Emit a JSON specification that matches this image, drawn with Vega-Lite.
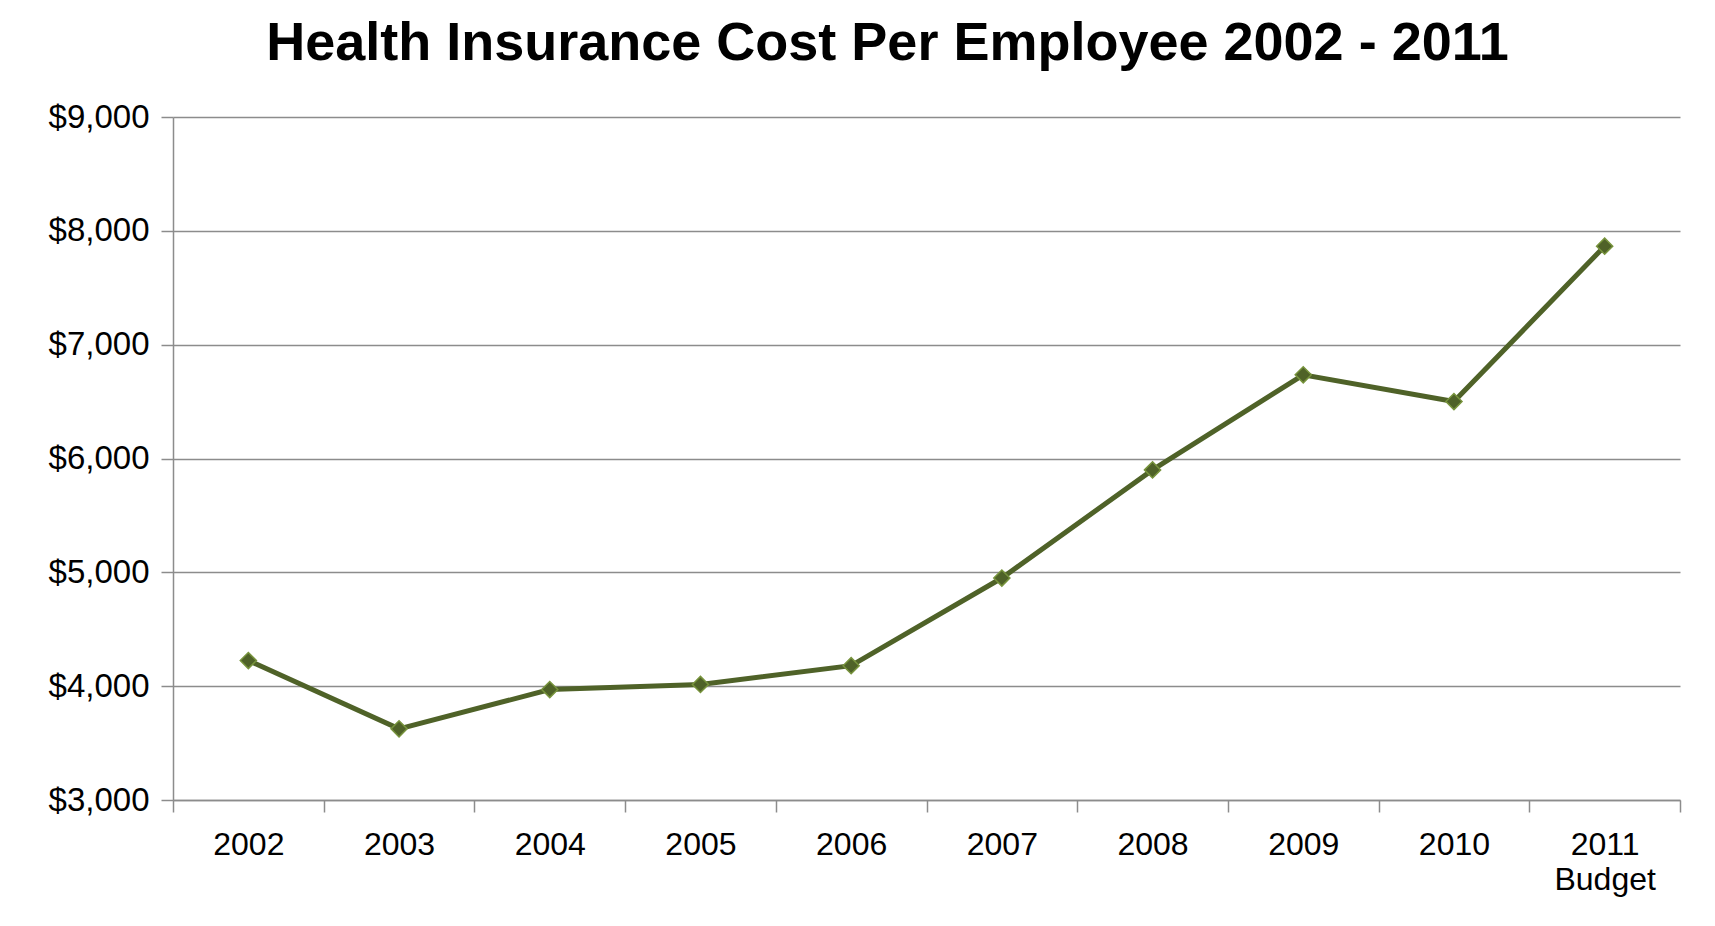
{
  "$schema": "https://vega.github.io/schema/vega-lite/v6.json",
  "width": 1507,
  "height": 683,
  "autosize": {"type": "none"},
  "padding": {"left": 173, "top": 117, "right": 35, "bottom": 126},
  "background": "white",
  "title": {
    "text": "Health Insurance Cost Per Employee 2002 - 2011",
    "font": "Liberation Sans",
    "fontSize": 54,
    "fontWeight": "bold",
    "color": "black",
    "anchor": "middle",
    "dx": -39,
    "offset": 30
  },
  "data": {
    "values": [
      {"year": "2002", "cost": 4225},
      {"year": "2003", "cost": 3625},
      {"year": "2004", "cost": 3970},
      {"year": "2005", "cost": 4015},
      {"year": "2006", "cost": 4180},
      {"year": "2007", "cost": 4950},
      {"year": "2008", "cost": 5900},
      {"year": "2009", "cost": 6735},
      {"year": "2010", "cost": 6500},
      {"year": "2011 Budget", "cost": 7865}
    ]
  },
  "encoding": {
    "x": {
      "field": "year",
      "type": "ordinal",
      "sort": null,
      "scale": {"paddingInner": 0, "paddingOuter": 0},
      "axis": {
        "title": null,
        "labelAngle": 0,
        "labelExpr": "datum.value ? split(datum.value, ' ') : ''",
        "labelFont": "Liberation Sans",
        "labelFontSize": 32,
        "labelColor": "black",
        "labelPadding": 17,
        "labelLineHeight": 35,
        "tickBand": "extent",
        "tickSize": 12,
        "tickColor": "#8c8c8c",
        "tickWidth": 1.5,
        "domainColor": "#8c8c8c",
        "domainWidth": 1.5,
        "grid": false
      }
    },
    "y": {
      "field": "cost",
      "type": "quantitative",
      "scale": {"domain": [3000, 9000], "nice": false, "zero": false},
      "axis": {
        "title": null,
        "values": [3000, 4000, 5000, 6000, 7000, 8000, 9000],
        "format": "$,.0f",
        "labelFont": "Liberation Sans",
        "labelFontSize": 33,
        "labelColor": "black",
        "labelPadding": 12,
        "tickSize": 12,
        "tickColor": "#8c8c8c",
        "tickWidth": 1.5,
        "domainColor": "#8c8c8c",
        "domainWidth": 1.5,
        "grid": true,
        "gridColor": "#8c8c8c",
        "gridWidth": 1.5
      }
    }
  },
  "layer": [
    {
      "mark": {"type": "line", "color": "#4F6228", "strokeWidth": 5}
    },
    {
      "mark": {
        "type": "point",
        "shape": "diamond",
        "filled": true,
        "fill": "#4F6228",
        "stroke": "#77933C",
        "strokeWidth": 1.5,
        "size": 260,
        "opacity": 1
      }
    }
  ],
  "config": {
    "view": {"stroke": null}
  }
}
